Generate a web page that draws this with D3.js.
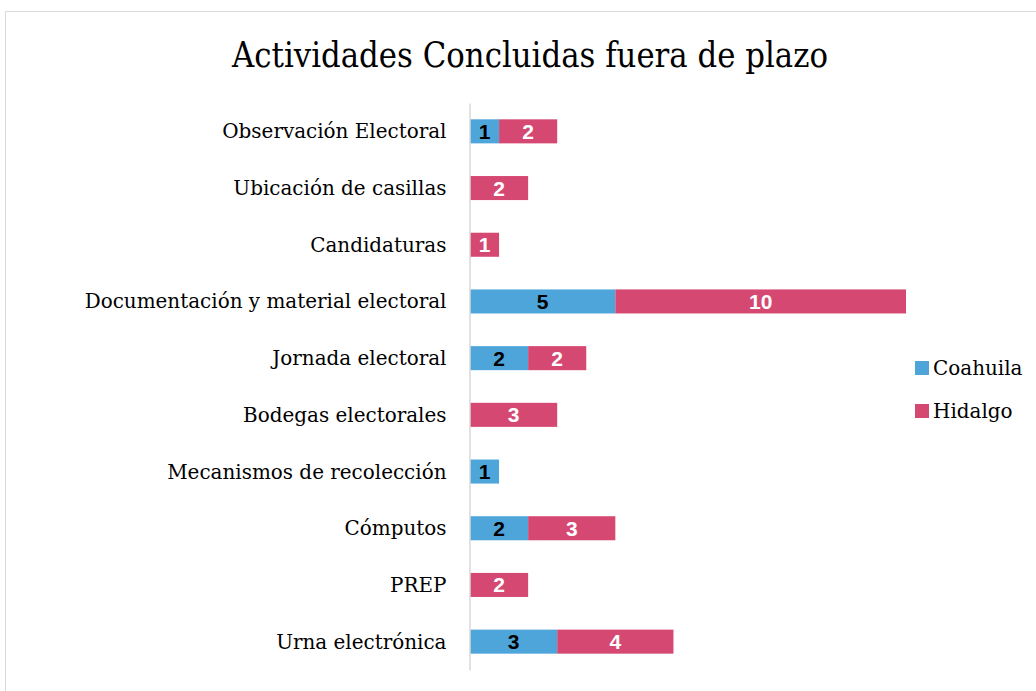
<!DOCTYPE html>
<html><head><meta charset="utf-8">
<script src="https://cdn.jsdelivr.net/npm/d3@7"></script>
<style>body{margin:0;background:#fff}svg{display:block}</style>
</head><body>
<script>
const categories = ["Observación Electoral","Ubicación de casillas","Candidaturas","Documentación y material electoral","Jornada electoral","Bodegas electorales","Mecanismos de recolección","Cómputos","PREP","Urna electrónica"];
const coahuila = [1,0,0,5,2,0,1,2,0,3];
const hidalgo  = [2,2,1,10,2,3,0,3,2,4];
const seriesNames = ["Coahuila","Hidalgo"];
const colors = ["#4EA5DA","#D54872"];
const labelColors = ["#000","#fff"];

const W=1036,H=691;
const serif="DejaVu Serif";
const svg=d3.select("body").append("svg").attr("width",W).attr("height",H);
svg.append("rect").attr("x",0).attr("y",0).attr("width",W).attr("height",H).attr("fill","#fff");
svg.append("path").attr("d",`M${W},11.5H5.5V${H}`).attr("fill","none").attr("stroke","#d9d9d9").attr("stroke-width",1);

svg.append("text").attr("x",530).attr("y",67).attr("text-anchor","middle")
  .attr("font-family",serif).attr("font-size",36).attr("fill","#000")
  .attr("textLength",596).attr("lengthAdjust","spacingAndGlyphs")
  .text("Actividades Concluidas fuera de plazo");

const data=categories.map((c,i)=>({cat:c,Coahuila:coahuila[i],Hidalgo:hidalgo[i]}));
const stack=d3.stack().keys(seriesNames)(data);

const x=d3.scaleLinear().domain([0,15]).range([470,906]);
const y=d3.scaleBand().domain(categories).range([103,670]).paddingInner(0.576).paddingOuter(0.288);

stack.forEach((s,si)=>{
  const g=svg.append("g");
  s.forEach((d,i)=>{
    const v=d[1]-d[0];
    if(!v) return;
    g.append("rect").attr("x",x(d[0])).attr("y",y(categories[i])).attr("width",x(d[1])-x(d[0])).attr("height",y.bandwidth()).attr("fill",colors[si]);
    g.append("text").attr("x",(x(d[0])+x(d[1]))/2).attr("y",y(categories[i])+y.bandwidth()/2+7.5)
      .attr("text-anchor","middle").attr("font-family","Liberation Sans").attr("font-weight","bold")
      .attr("font-size",21).attr("fill",labelColors[si]).text(v);
  });
});

const ax=svg.append("g").attr("transform","translate(469.5,0)").call(d3.axisLeft(y).tickSize(0).tickPadding(23));
ax.select(".domain").attr("stroke","#d9d9d9").attr("stroke-width",1.5);
ax.selectAll("text").attr("font-family",serif).attr("font-size",19).attr("fill","#000").attr("dy","0.35em");
// fit width to reference proportion
const widest=ax.selectAll("text").nodes().reduce((m,n)=>Math.max(m,n.getComputedTextLength()),0);
const fs=19*362/widest;
ax.selectAll("text").attr("font-size",fs);

const lg=svg.append("g");
seriesNames.forEach((n,i)=>{
  const yy=368+i*43;
  lg.append("rect").attr("x",915).attr("y",yy-7).attr("width",14).attr("height",14).attr("fill",colors[i]);
  lg.append("text").attr("x",933).attr("y",yy+7).attr("font-family",serif).attr("font-size",fs).attr("fill","#000").text(n);
});
</script>
</body></html>
